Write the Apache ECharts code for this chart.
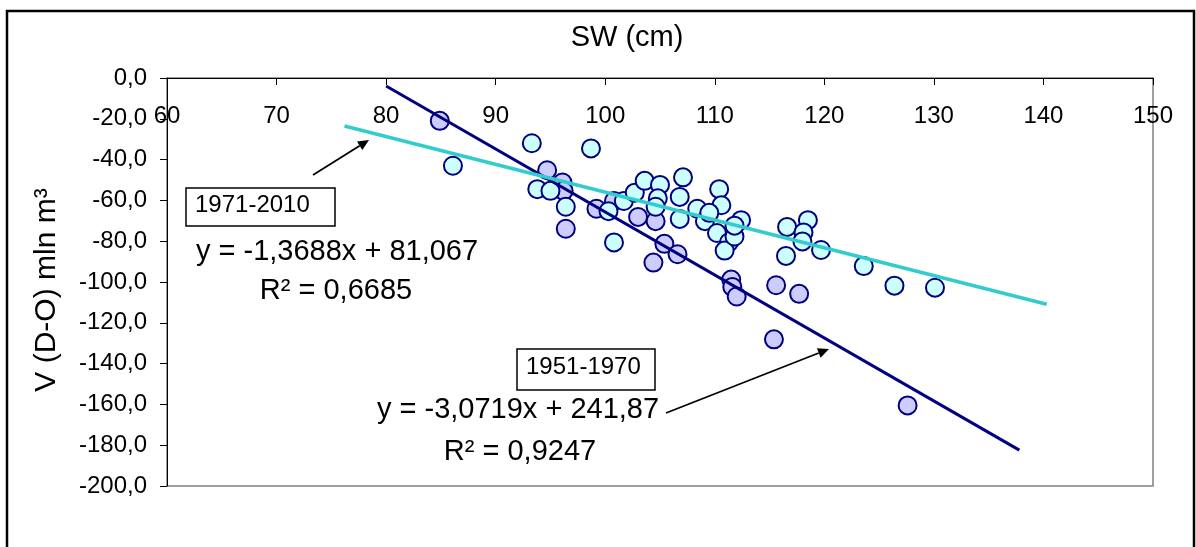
<!DOCTYPE html>
<html>
<head>
<meta charset="utf-8">
<script src="https://cdn.jsdelivr.net/npm/echarts@6/dist/echarts.min.js"></script>
<style>
  html, body { margin: 0; padding: 0; background: #fff; }
  #chart { width: 1196px; height: 547px; }
</style>
</head>
<body>
<div id="chart"></div>
<script>
// SW (cm) / V (D-O) pairs, 1951-1970
var sw5170 = [84.9, 94.7, 96.1, 96.2, 96.4, 99.2, 100.8, 103.0, 104.6, 104.4,
  105.4, 106.6, 111.5, 111.6, 112.0, 115.6, 117.7, 115.4, 127.6];
var v5170 = [-21.0, -45.2, -51.2, -55.3, -73.9, -64.1, -60.3, -68.1, -70.2, -90.5,
  -81.3, -86.4, -98.8, -102.4, -107.1, -101.6, -105.8, -128.1, -160.5];

// 1971-2010
var sw7110 = [93.3, 98.7, 86.1, 93.8, 95.0, 96.4, 100.8, 101.7, 102.7, 103.6,
  105.0, 107.1, 104.8, 104.6, 100.3, 106.8, 106.8, 108.4, 109.1, 110.4,
  110.6, 110.2, 111.3, 110.9, 111.8, 112.4, 111.8, 116.6, 118.5, 118.1,
  118.0, 116.5, 119.7, 123.6, 126.4, 130.1, 109.5];
var v7110 = [-32.0, -34.5, -43.0, -54.5, -55.3, -63.1, -80.6, -60.3, -56.2, -50.4,
  -52.4, -48.7, -59.0, -63.1, -65.3, -58.3, -69.1, -64.1, -70.2, -54.5,
  -62.4, -76.0, -80.5, -84.6, -77.7, -69.7, -72.4, -73.0, -69.7, -75.7,
  -80.1, -87.2, -84.3, -92.2, -101.8, -102.8, -66.1];

// trend line end points as drawn
var trendX5170 = [80.0, 137.8];
var trendY5170 = [-3.9, -182.4];
var trendX7110 = [76.2, 140.3];
var trendY7110 = [-23.5, -110.9];

var xTicks = [60, 70, 80, 90, 100, 110, 120, 130, 140, 150];
var yTicks = [0, -20, -40, -60, -80, -100, -120, -140, -160, -180, -200];

var FONT = "'Liberation Sans', Arial, sans-serif";

function pairs(xs, ys) {
  return xs.map(function (x, i) { return [x, ys[i]]; });
}

// simple arrow: line + filled head
function arrow(x1, y1, x2, y2) {
  var a = Math.atan2(y2 - y1, x2 - x1);
  var L = 11, W = 5;
  var bx = x2 - L * Math.cos(a), by = y2 - L * Math.sin(a);
  var px = -Math.sin(a) * W, py = Math.cos(a) * W;
  return [
    { type: 'line', shape: { x1: x1, y1: y1, x2: bx, y2: by }, style: { stroke: '#000', lineWidth: 1.8 }, z: 50 },
    { type: 'polygon', shape: { points: [[x2, y2], [bx + px, by + py], [bx - px, by - py]] }, style: { fill: '#000' }, z: 50 }
  ];
}

function txt(s, x, y, size, align) {
  return {
    type: 'text', x: x, y: y, z: 50,
    style: { text: s, fontSize: size, fontFamily: FONT, fill: '#000', align: align || 'center', verticalAlign: 'middle' }
  };
}

var chart = echarts.init(document.getElementById('chart'));

var option = {
  animation: false,
  backgroundColor: '#fff',
  grid: {
    left: 167, top: 78, width: 986, height: 408,
    show: true, borderColor: '#808080', borderWidth: 1.5
  },
  xAxis: {
    type: 'value',
    position: 'top',
    min: xTicks[0], max: xTicks[xTicks.length - 1], interval: 10,
    axisLine: { show: true, onZero: false, lineStyle: { color: '#000', width: 1 } },
    axisTick: { show: true, inside: true, length: 7, lineStyle: { color: '#000' } },
    axisLabel: { inside: true, margin: 26, fontSize: 24, color: '#000', fontFamily: FONT, showMinLabel: true, showMaxLabel: true },
    splitLine: { show: false }
  },
  yAxis: {
    type: 'value',
    min: yTicks[yTicks.length - 1], max: yTicks[0], interval: 20,
    axisLine: { show: true, onZero: false, lineStyle: { color: '#000', width: 1 } },
    axisTick: { show: true, length: 7, lineStyle: { color: '#000' } },
    axisLabel: {
      margin: 20, fontSize: 24, color: '#000', fontFamily: FONT,
      formatter: function (v) { return v.toFixed(1).replace('.', ','); }
    },
    splitLine: { show: false }
  },
  series: [
    {
      name: '1951-1970',
      type: 'scatter',
      data: pairs(sw5170, v5170),
      symbol: 'circle',
      symbolSize: 18,
      itemStyle: { color: '#ccccff', borderColor: '#000080', borderWidth: 2, opacity: 1 }
    },
    {
      name: '1971-2010',
      type: 'scatter',
      data: pairs(sw7110, v7110),
      symbol: 'circle',
      symbolSize: 18,
      itemStyle: { color: '#ccffff', borderColor: '#000080', borderWidth: 2, opacity: 1 }
    },
    {
      type: 'line',
      data: pairs(trendX5170, trendY5170),
      showSymbol: false,
      lineStyle: { color: '#000080', width: 3 },
      z: 3
    },
    {
      type: 'line',
      data: pairs(trendX7110, trendY7110),
      showSymbol: false,
      lineStyle: { color: '#33cccc', width: 3.5 },
      z: 3
    }
  ],
  graphic: [
    // outer frame
    { type: 'rect', shape: { x: 7, y: 11, width: 1187, height: 560 }, style: { fill: 'none', stroke: '#000', lineWidth: 2.5 }, z: 60 },
    txt('SW (cm)', 627, 38, 29),
    // y axis title
    {
      type: 'text', x: 47, y: 290, rotation: Math.PI / 2, z: 50,
      style: { text: 'V (D-O) mln m³', fontSize: 30, fontFamily: FONT, fill: '#000', align: 'center', verticalAlign: 'middle' }
    },
    // 1971-2010 label
    { type: 'rect', shape: { x: 186, y: 188, width: 149, height: 38 }, style: { fill: '#fff', stroke: '#000', lineWidth: 1.5 }, z: 45 },
    txt('1971-2010', 195, 205, 24, 'left'),
    txt('y = -1,3688x + 81,067', 337, 252, 29),
    txt('R² = 0,6685', 336, 291, 29),
    // 1951-1970 label
    { type: 'rect', shape: { x: 517, y: 349, width: 138, height: 41 }, style: { fill: '#fff', stroke: '#000', lineWidth: 1.5 }, z: 45 },
    txt('1951-1970', 526, 367, 24, 'left'),
    txt('y = -3,0719x + 241,87', 518, 410, 29),
    txt('R² = 0,9247', 520, 452, 29)
  ].concat(arrow(313, 175, 369, 140)).concat(arrow(666, 413, 829, 349))
};

chart.setOption(option);
</script>
</body>
</html>
